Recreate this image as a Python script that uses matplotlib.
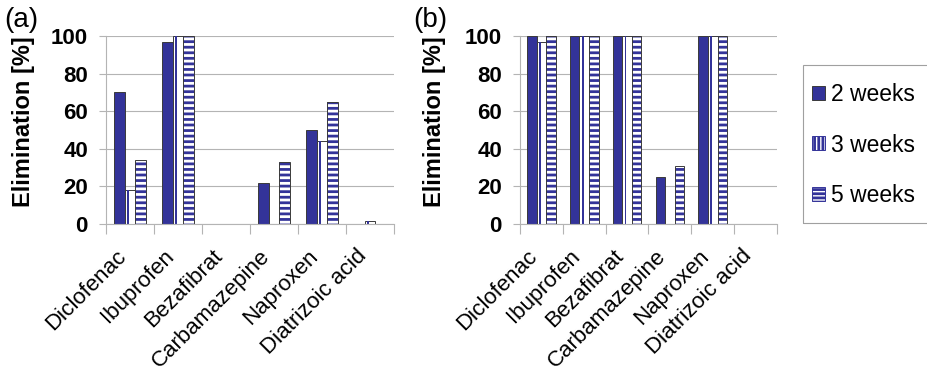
import numpy as np
import matplotlib
matplotlib.use("Agg")
import matplotlib.pyplot as plt
from matplotlib.patches import Patch, Rectangle

plt.rcParams['font.family'] = ['Liberation Sans', 'DejaVu Sans']
plt.rcParams['hatch.linewidth'] = 2.0

# data
drugs = ["Diclofenac", "Ibuprofen", "Bezafibrat", "Carbamazepine", "Naproxen", "Diatrizoic acid"]
series = ["2 weeks", "3 weeks", "5 weeks"]
# panel (a)
a_2w = [70, 97, 0, 22, 50, 0]
a_3w = [18, 100, 0, 0, 44, 1.5]
a_5w = [34, 100, 0, 33, 65, 0]
# panel (b)
b_2w = [100, 100, 100, 25, 100, 0]
b_3w = [97, 100, 100, 0, 100, 0]
b_5w = [100, 100, 100, 31, 100, 0]

BLUE = "#333399"
EDGE = "#3a3a3a"
GRID = "#b4b4b4"


def nz(v):
    v = np.asarray(v, dtype=float)
    return np.where(v > 0, v, np.nan)


def draw_panel(ax, v2, v3, v5, width_px):
    x = np.arange(len(drugs))
    bw = 1 / 4.5
    ax.set_axisbelow(True)
    ax.yaxis.grid(True, color=GRID, linewidth=0.8)
    # 2 weeks: solid
    ax.bar(x - bw, nz(v2), bw, color=BLUE, edgecolor=EDGE, linewidth=0.7)
    # 3 weeks: white with one vertical blue line
    ax.bar(x, nz(v3), bw, color="white", edgecolor=EDGE, linewidth=0.7)
    ax.bar(x - bw / 6, nz(v3), bw * 0.18, color=BLUE, linewidth=0)
    # 5 weeks: horizontal stripes
    ax.bar(x + bw, nz(v5), bw, color="white", edgecolor=BLUE, linewidth=0, hatch="---")
    ax.bar(x + bw, nz(v5), bw, fill=False, edgecolor=EDGE, linewidth=0.7)

    ax.set_xlim(-0.5, len(drugs) - 0.5)
    ax.set_ylim(0, 100)
    ax.set_yticks([0, 20, 40, 60, 80, 100])
    ax.tick_params(axis="y", labelsize=16, length=5, color=GRID, width=0.8, pad=8)
    for lab in ax.get_yticklabels():
        lab.set_fontweight("bold")
    # labels sit a little left of the category centre
    lab_shift = 7 / (width_px / len(drugs))
    ax.set_xticks(x - lab_shift)
    ax.set_xticklabels(drugs, rotation=45, ha="right", va="center",
                       rotation_mode="anchor", fontsize=16)
    ax.tick_params(axis="x", which="major", length=0, pad=21)
    ax.set_xticks(np.arange(len(drugs) + 1) - 0.5, minor=True)
    ax.tick_params(axis="x", which="minor", length=7, color=GRID, width=0.8)
    for s in ["top", "right"]:
        ax.spines[s].set_visible(False)
    for s in ["left", "bottom"]:
        ax.spines[s].set_color(GRID)
        ax.spines[s].set_linewidth(0.8)
    ax.set_ylabel("Elimination [%]", fontsize=17, fontweight="bold")


fig = plt.figure(figsize=(9.28, 3.71), dpi=100)
W, H = 928, 371
ax1 = fig.add_axes([106 / W, 1 - 224 / H, 288 / W, 188 / H])
ax2 = fig.add_axes([520 / W, 1 - 224 / H, 257 / W, 188 / H])
draw_panel(ax1, a_2w, a_3w, a_5w, 288)
draw_panel(ax2, b_2w, b_3w, b_5w, 257)
ax1.yaxis.set_label_coords((35 - 106) / 288, 0.545)
ax2.yaxis.set_label_coords((446 - 520) / 257, 0.545)

fig.text(4 / W, 1 - 20 / H, "(a)", fontsize=20, va="center", ha="left")
fig.text(413 / W, 1 - 20 / H, "(b)", fontsize=20, va="center", ha="left")

# legend box
fig.patches.append(Rectangle((803 / W, 1 - 223 / H), 130 / W, 158 / H,
                             transform=fig.transFigure, fill=False,
                             edgecolor="#a0a0a0", linewidth=0.8))
handles = [
    Patch(facecolor=BLUE, edgecolor=EDGE, linewidth=0.7),
    Patch(facecolor="white", edgecolor=BLUE, linewidth=0.7, hatch="||||"),
    Patch(facecolor="white", edgecolor=BLUE, linewidth=0.7, hatch="----"),
]
leg = fig.legend(handles, series, loc="center left", bbox_to_anchor=(812 / W, 1 - 145 / H),
                 borderaxespad=0, fontsize=16.5, frameon=False,
                 handlelength=0.55, handleheight=0.55, handletextpad=0.3,
                 labelspacing=1.2, borderpad=0)

fig.savefig("out.png", dpi=100)
